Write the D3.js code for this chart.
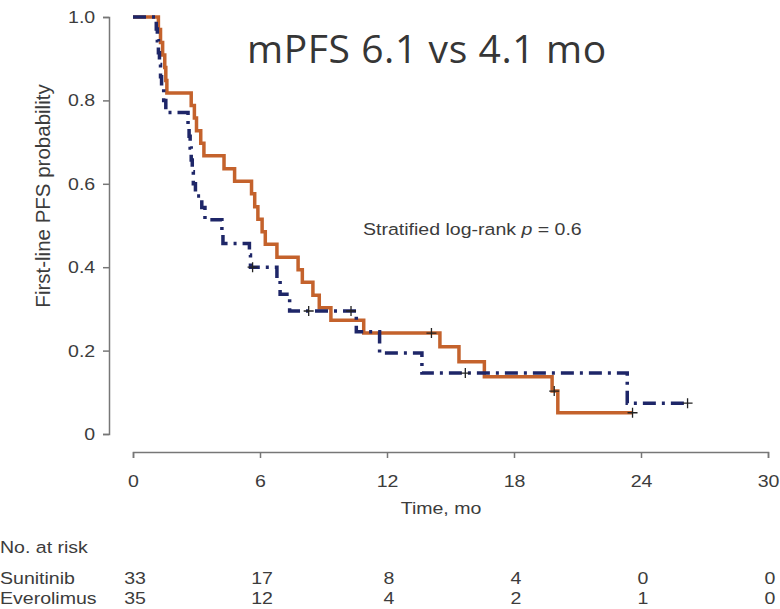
<!DOCTYPE html>
<html>
<head>
<meta charset="utf-8">
<script src="https://cdn.jsdelivr.net/npm/d3@7"></script>
<style>
  body { margin: 0; background: #fff; }
  svg { display: block; }
  .axis path, .axis line { stroke: #777; stroke-width: 1.5; }
  text { font-family: "Liberation Sans", Arial, sans-serif; fill: #3c3c3c; }
</style>
</head>
<body>
<script>
// time points (months) where the curve drops, and survival after the drop
const sunTimes = [1.2, 1.3, 1.4, 1.5, 1.55, 1.6, 2.75, 2.9, 3.0, 3.2, 3.35, 4.3, 4.8, 5.6, 5.75, 5.9, 6.1, 6.25,
    6.8, 7.8, 8.0, 8.5, 8.8, 9.35, 10.9, 14.5, 15.4, 16.6, 19.8, 20.07];
const sunSurv = [0.97, 0.939, 0.909, 0.879, 0.848, 0.818, 0.788, 0.758, 0.727, 0.697, 0.667, 0.636, 0.606, 0.576, 0.545, 0.515, 0.485, 0.455,
    0.424, 0.394, 0.364, 0.333, 0.303, 0.273, 0.242, 0.209, 0.173, 0.137, 0.103, 0.051];
const sunCensorT = [14.1, 19.9, 23.6];
const sunCensorS = [0.242, 0.103, 0.051];

const eveTimes = [1.1, 1.15, 1.2, 1.25, 1.3, 1.35, 1.45, 1.55, 2.6, 2.65, 2.7, 2.75, 2.8, 2.85, 2.95, 3.25, 3.4, 4.2, 4.25,
    5.5, 5.55, 6.8, 6.95, 7.4, 10.55, 11.65, 13.65, 23.35];
const eveSurv = [0.971, 0.943, 0.914, 0.886, 0.857, 0.829, 0.8, 0.771, 0.743, 0.714, 0.686, 0.657, 0.629, 0.6, 0.571, 0.543, 0.514, 0.486, 0.457,
    0.429, 0.4, 0.37, 0.335, 0.295, 0.245, 0.194, 0.146, 0.074];
const eveCensorT = [5.65, 8.3, 10.3, 15.7, 26.2];
const eveCensorS = [0.4, 0.295, 0.295, 0.146, 0.074];

const xTicks = [0, 6, 12, 18, 24, 30];
const yTicks = [0, 0.2, 0.4, 0.6, 0.8, 1.0];
const riskSun = [33, 17, 8, 4, 0, 0];
const riskEve = [35, 12, 4, 2, 1, 0];

const width = 780, height = 609;
const stretch = 1.15; // text in the picture is a bit wide

const svg = d3.select("body").append("svg")
    .attr("width", width)
    .attr("height", height);

const x = d3.scaleLinear().domain([0, 30]).range([133, 768]);
const y = d3.scaleLinear().domain([0, 1]).range([434, 17]);

// y axis
const yAxis = d3.axisLeft(y)
    .tickValues(yTicks)
    .tickSize(6)
    .tickPadding(6)
    .tickFormat(d => d === 0 ? "0" : d3.format(".1f")(d));
const gy = svg.append("g").attr("class", "axis")
    .attr("transform", "translate(109,0)")
    .call(yAxis);
gy.selectAll("text").style("font-size", "17px").attr("transform", `scale(${stretch},1)`);

// x axis
const xAxis = d3.axisBottom(x)
    .tickValues(xTicks)
    .tickSize(6)
    .tickPadding(17);
const gx = svg.append("g").attr("class", "axis")
    .attr("transform", "translate(0,452)")
    .call(xAxis);
gx.selectAll("text").style("font-size", "17px").attr("transform", `scale(${stretch},1)`);

// plain text helper
function label(tx, ty, str, anchor, size) {
    return svg.append("text")
        .attr("transform", `translate(${tx},${ty}) scale(${stretch},1)`)
        .attr("text-anchor", anchor || "start")
        .style("font-size", (size || 17) + "px")
        .text(str);
}

label(441, 514, "Time, mo", "middle");
label(0, 553, "No. at risk");
label(0, 584, "Sunitinib");
label(0, 604, "Everolimus");

riskSun.forEach((v, i) => label(x(xTicks[i]) + 2, 584, v, "middle"));
riskEve.forEach((v, i) => label(x(xTicks[i]) + 2, 604, v, "middle"));

svg.append("text")
    .attr("transform", "translate(50,196) rotate(-90)")
    .attr("text-anchor", "middle")
    .style("font-size", "20.5px")
    .text("First-line PFS probability");

const pv = label(363, 235, "Stratified log-rank ");
pv.append("tspan").style("font-style", "italic").text("p");
pv.append("tspan").text(" = 0.6");

// title
svg.append("text")
    .attr("x", 247)
    .attr("y", 63)
    .style("font-family", "'Open Sans', sans-serif")
    .style("font-size", "39px")
    .style("letter-spacing", "0.6px")
    .style("fill", "#363636")
    .text("mPFS 6.1 vs 4.1 mo");

// curves
const line = d3.line()
    .x(d => x(d[0]))
    .y(d => y(d[1]))
    .curve(d3.curveStepAfter);

function points(times, surv, endT) {
    const pts = [[0, 1]];
    times.forEach((t, i) => pts.push([t, surv[i]]));
    pts.push([endT, surv[surv.length - 1]]);
    return pts;
}

const sunPts = points(sunTimes, sunSurv, d3.max(sunCensorT));
const evePts = points(eveTimes, eveSurv, d3.max(eveCensorT));

svg.append("path")
    .attr("d", line(sunPts))
    .attr("fill", "none")
    .attr("stroke", "#c4622c")
    .attr("stroke-width", 3.5);

svg.append("path")
    .attr("d", line(evePts))
    .attr("fill", "none")
    .attr("stroke", "#1e2668")
    .attr("stroke-width", 3.5)
    .attr("stroke-dasharray", "13,6,3,6");

// censor marks
const censors = sunCensorT.map((t, i) => [t, sunCensorS[i]])
    .concat(eveCensorT.map((t, i) => [t, eveCensorS[i]]));

svg.selectAll(".censor")
    .data(censors)
    .enter()
    .append("path")
    .attr("class", "censor")
    .attr("d", d => {
        const cx = x(d[0]), cy = y(d[1]);
        return `M${cx - 5},${cy}H${cx + 5}M${cx},${cy - 5}V${cy + 5}`;
    })
    .attr("stroke", "#222")
    .attr("stroke-width", 1.3);
</script>
</body>
</html>
